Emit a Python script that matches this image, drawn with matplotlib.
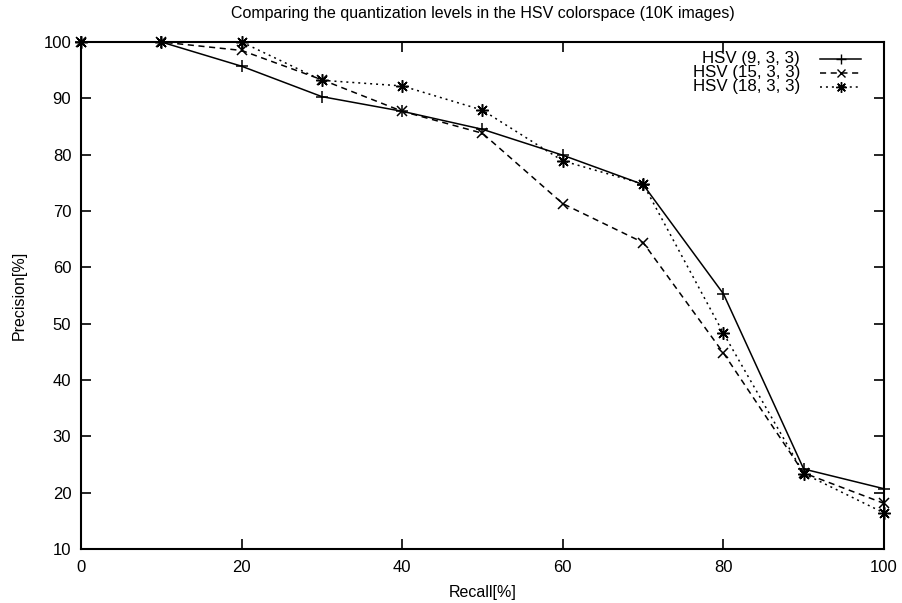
import matplotlib
matplotlib.use("Agg")
import matplotlib.pyplot as plt

plt.rcParams['font.family'] = ['Liberation Sans', 'DejaVu Sans']

recall = [0, 10, 20, 30, 40, 50, 60, 70, 80, 90, 100]
hsv_9 = [100, 100, 95.7, 90.3, 87.7, 84.5, 79.9, 74.7, 55.3, 24.2, 20.7]
hsv_15 = [100, 100, 98.5, 93.3, 87.7, 83.8, 71.3, 64.4, 44.8, 23.5, 18.1]
hsv_18 = [100, 100, 100, 93.2, 92.2, 87.9, 78.9, 74.8, 48.3, 23.4, 16.4]
labels = ["HSV (9, 3, 3)", "HSV (15, 3, 3)", "HSV (18, 3, 3)"]
x_ticks = [0, 20, 40, 60, 80, 100]
y_ticks = [10, 20, 30, 40, 50, 60, 70, 80, 90, 100]

fig = plt.figure(figsize=(9.02, 6.03), dpi=100)
ax = fig.add_axes([81 / 902, 1 - 549 / 603, (884 - 81) / 902, (549 - 42) / 603])

asterisk = (8, 2, 0)
styles = [
    dict(ls='-', marker='+', ms=9),
    dict(ls=(0, (4, 3)), marker='x', ms=7),
    dict(ls=(0, (1.3, 2.6)), marker=asterisk, ms=9),
]
series = [hsv_9, hsv_15, hsv_18]

for vals, st in zip(series, styles):
    ax.plot(recall, vals, color='black', lw=1.1, mew=1.1, clip_on=False, **st)

ax.set_xlim(0, 100)
ax.set_ylim(10, 100)
ax.set_xticks(x_ticks)
ax.set_yticks(y_ticks)
ax.tick_params(direction='in', length=7, width=1.2, top=True, right=True,
               labelsize=12, colors='black')
ax.tick_params(axis='y', pad=7)
ax.tick_params(axis='x', pad=8)
for sp in ax.spines.values():
    sp.set_linewidth(1.5)

ax.set_xlabel("Recall[%]", fontsize=11.5, labelpad=7)
ax.set_ylabel("Precision[%]", fontsize=11.5, labelpad=12)
ax.set_title("Comparing the quantization levels in the HSV colorspace (10K images)",
             fontsize=11.5, pad=17)

# key in the upper right: label, then a sample line with its marker
key_rows = [59, 73, 87]
for lab, st, yp in zip(labels, styles, key_rows):
    yy = 1 - (yp - 42) / (549 - 42)
    x_text = (800 - 81) / (884 - 81)
    x0 = (820 - 81) / (884 - 81)
    x1 = (861 - 81) / (884 - 81)
    ax.text(x_text, yy, lab, transform=ax.transAxes, ha='right', va='center',
            fontsize=12.2)
    ax.plot([x0, x1], [yy, yy], transform=ax.transAxes, color='black', lw=1.1,
            ls=st['ls'], clip_on=False)
    ax.plot([(x0 + x1) / 2], [yy], transform=ax.transAxes, color='black',
            marker=st['marker'], ms=st['ms'] * 0.85, mew=1.0, ls='none')

fig.savefig("out.png", dpi=100)
